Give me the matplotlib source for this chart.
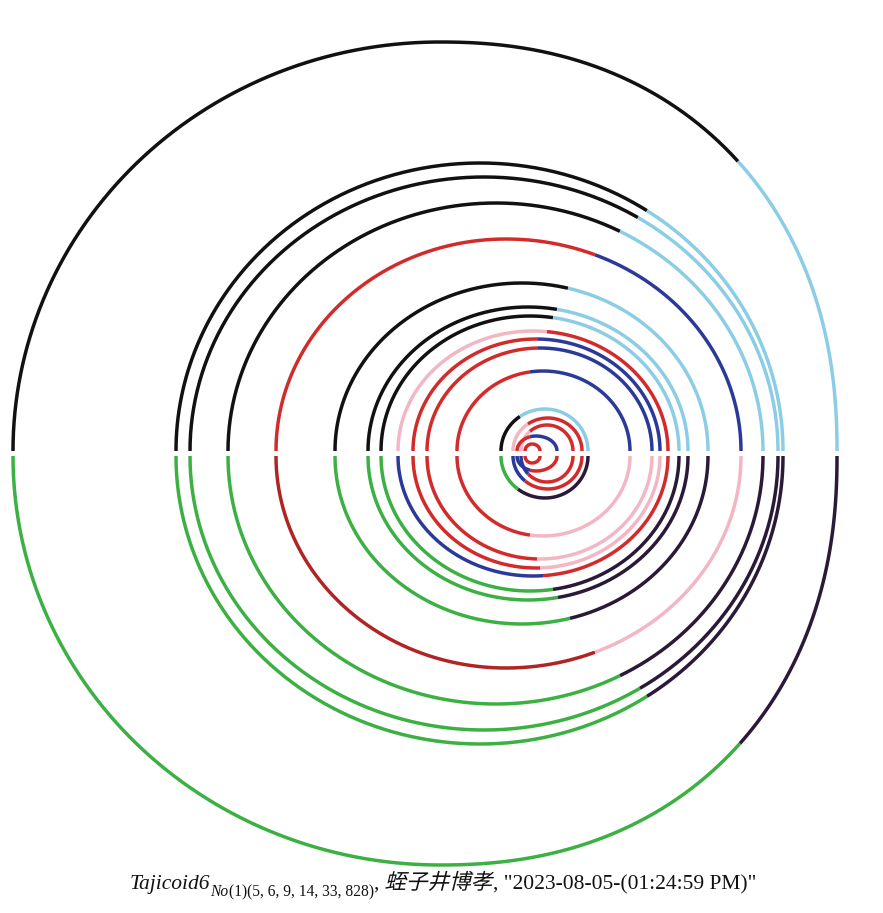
import numpy as np
import matplotlib
matplotlib.use("Agg")
import matplotlib.pyplot as plt
from matplotlib.textpath import TextPath
from matplotlib.patches import PathPatch
from matplotlib.font_manager import FontProperties
from matplotlib.transforms import Affine2D, IdentityTransform

# rings, outermost first (picture pixel units)
left_x   = [13, 176, 190, 228, 276, 335, 368, 381, 398, 413, 427, 457, 501, 513, 521, 517, 525]
right_x  = [837, 783, 778, 763, 741, 708, 688, 679, 668, 660, 652, 630, 588, 582, 573, 557, 540]
apex_x   = [440, 480, 484, 496, 506, 522, 528, 530, 533, 536, 540, 543, 545, 548, 547, 536, 532]
height   = [409, 288, 274, 248, 212, 168, 144, 135, 120, 112, 103, 80, 42, 33, 26, 15, 7]
bulge    = [2.2, 2.0, 2.0, 2.0, 2.0, 2.0, 2.0, 2.0, 2.0, 2.0, 2.0, 2.0, 2.0, 2.0, 2.0, 2.0, 2.0]
split_up = [738, 647, 638, 620, 595, 568, 557, 553, 547, 538, 538, 530, 520, 528, 530, 530, 532]
split_lo = [740, 647, 640, 620, 595, 570, 558, 553, 543, 540, 537, 530, 518, 525, 528, 530, 532]

K, LB, G, DK = "#111111", "#8ccde6", "#3cb043", "#2a1a38"
R, DR, B, P = "#d22b2b", "#b02424", "#2b3a98", "#f2b6c4"
col_ul = [K, K, K, K, R, K, K, K, P, R, R, R, K, P, P, R, R]
col_ur = [LB, LB, LB, LB, B, LB, LB, LB, R, B, B, B, LB, R, R, B, R]
col_ll = [G, G, G, G, DR, G, G, G, B, R, R, R, G, B, B, B, R]
col_lr = [DK, DK, DK, DK, P, DK, DK, DK, R, P, P, P, DK, R, R, R, R]

base_up, base_lo = 451, 456


def half_ring(L, Rr, xt, H, p, n=400):
    th = np.linspace(np.pi, 0, n)
    x = np.empty(n)
    y = np.empty(n)
    lft = th >= np.pi / 2
    x[lft] = xt + (xt - L) * np.cos(th[lft])
    y[lft] = H * np.sin(th[lft])
    c = np.cos(th[~lft])
    s = np.sin(th[~lft])
    x[~lft] = xt + (Rr - xt) * np.abs(c) ** (2 / p)
    y[~lft] = H * np.abs(s) ** (2 / p)
    return x, y


def cut(x, y, xs):
    i = np.searchsorted(x, xs)
    i = min(max(i, 1), len(x) - 1)
    ys = np.interp(xs, x[i - 1:i + 1], y[i - 1:i + 1])
    return (np.r_[x[:i], xs], np.r_[y[:i], ys]), (np.r_[xs, x[i:]], np.r_[ys, y[i:]])


fig = plt.figure(figsize=(8.83, 9.13), dpi=100)
ax = fig.add_axes([0, 0, 1, 1])
ax.set_xlim(0, 883)
ax.set_ylim(913, 0)
ax.axis("off")

lw = 2.5
for k in range(len(left_x)):
    x, y = half_ring(left_x[k], right_x[k], apex_x[k], height[k], bulge[k])
    (xa, ya), (xb, yb) = cut(x, y, split_up[k])
    ax.plot(xa, base_up - ya, color=col_ul[k], lw=lw, solid_capstyle="butt")
    ax.plot(xb, base_up - yb, color=col_ur[k], lw=lw, solid_capstyle="butt")
    (xa, ya), (xb, yb) = cut(x, y, split_lo[k])
    ax.plot(xa, base_lo + ya, color=col_ll[k], lw=lw, solid_capstyle="butt")
    ax.plot(xb, base_lo + yb, color=col_lr[k], lw=lw, solid_capstyle="butt")

# caption, laid out piece by piece in pixel coordinates
renderer = fig.canvas.get_renderer()
ident = IdentityTransform()
size = 15.5
x0, y0 = 130, 913 - 889


def put(s, x, y, **kw):
    t = fig.text(x, y, s, transform=ident, ha="left", va="baseline",
                 family="Liberation Serif", color="#111111", **kw)
    return x + t.get_window_extent(renderer).width


x = put("Tajicoid6", x0, y0, fontsize=size, style="italic")
x = put("No", x, y0 - 7, fontsize=size * 0.72, style="italic")
x = put("(1)(5, 6, 9, 14, 33, 828)", x, y0 - 7, fontsize=size * 0.72)
x = put(", ", x, y0, fontsize=size)

px = size * 100 / 72
tp = TextPath((0, 0), "蛭子井博孝", size=px,
              prop=FontProperties(family="Noto Sans CJK JP"))
tr = Affine2D().skew_deg(14, 0).translate(x, y0)
fig.add_artist(PathPatch(tr.transform_path(tp), transform=ident,
                         facecolor="#111111", edgecolor="none"))
x += tp.get_extents().x1 + 2
put(', "2023-08-05-(01:24:59 PM)"', x, y0, fontsize=size)

fig.savefig("out.png", dpi=100, facecolor="white")
